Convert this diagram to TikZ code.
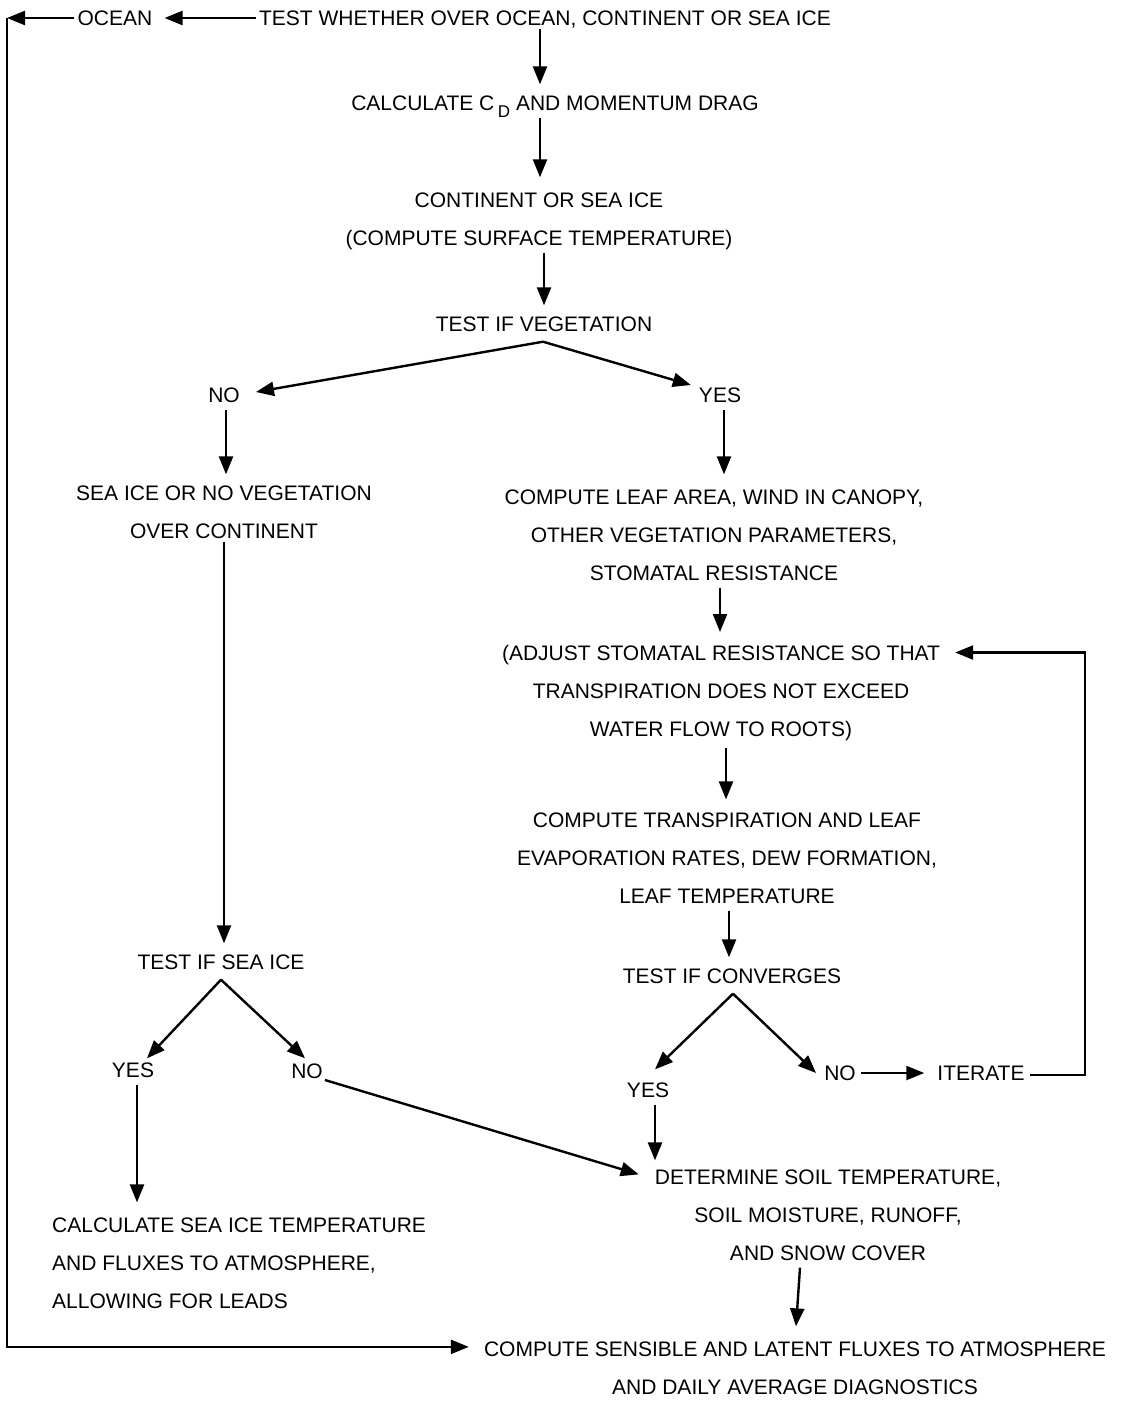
\documentclass[tikz,border=0pt]{standalone}
\usepackage{fontspec}
\setmainfont{Liberation Sans}
\usetikzlibrary{arrows.meta,calc}
\begin{document}
\begin{tikzpicture}[x=1pt,y=-1pt,
  lbl/.style={inner sep=3pt,font=\fontsize{21}{38}\selectfont,text height=15pt,text depth=0pt},
  blk/.style={inner sep=3pt,font=\fontsize{21}{38}\selectfont,align=center},
  arr/.style={line width=2.4pt,-{Triangle[length=18pt,width=14pt]}},
  ln/.style={line width=2.4pt}]
\useasboundingbox (0,0) rectangle (1121,1401);
% nodes
\node[lbl] (ocean) at (115,18) {OCEAN};
\node[lbl] (test) at (545,18) {TEST WHETHER OVER OCEAN, CONTINENT OR SEA ICE};
\node[lbl] (calc) at (555,103) {CALCULATE C\,\raisebox{-7pt}{\fontsize{17}{17}\selectfont D} AND MOMENTUM DRAG};
\node[blk] (cont) at (539,221) {CONTINENT OR SEA ICE\\(COMPUTE SURFACE TEMPERATURE)};
\node[lbl] (veg) at (544,324) {TEST IF VEGETATION};
\node[lbl] (no1) at (224,395) {NO};
\node[lbl] (yes1) at (720,395) {YES};
\node[blk] (seaveg) at (224,512) {SEA ICE OR NO VEGETATION\\OVER CONTINENT};
\node[lbl] (testice) at (221,962) {TEST IF SEA ICE};
\node[lbl] (yes2) at (133,1070) {YES};
\node[lbl] (no2) at (307,1071) {NO};
\node[blk,align=left,anchor=west] (calcice) at (49,1263) {CALCULATE SEA ICE TEMPERATURE\\AND FLUXES TO ATMOSPHERE,\\ALLOWING FOR LEADS};
\node[blk] (leaf) at (714,535) {COMPUTE LEAF AREA, WIND IN CANOPY,\\OTHER VEGETATION PARAMETERS,\\STOMATAL RESISTANCE};
\node[blk] (adjust) at (721,693) {(ADJUST STOMATAL RESISTANCE SO THAT\\TRANSPIRATION DOES NOT EXCEED\\WATER FLOW TO ROOTS)};
\node[blk] (transp) at (727,858) {COMPUTE TRANSPIRATION AND LEAF\\EVAPORATION RATES, DEW FORMATION,\\LEAF TEMPERATURE};
\node[lbl] (conv) at (732,976) {TEST IF CONVERGES};
\node[lbl] (yes3) at (648,1090) {YES};
\node[lbl] (no3) at (840,1073) {NO};
\node[lbl] (iter) at (981,1073) {ITERATE};
\node[blk] (det) at (828,1215) {DETERMINE SOIL TEMPERATURE,\\SOIL MOISTURE, RUNOFF,\\AND SNOW COVER};
\node[blk] (final) at (795,1368) {COMPUTE SENSIBLE AND LATENT FLUXES TO ATMOSPHERE\\AND DAILY AVERAGE DIAGNOSTICS};
\coordinate (oceanend) at (7,18);
% connectors
\draw[arr,shorten >=9pt] (test.west) -- (ocean.east);
\draw[arr] (ocean.west) -- (oceanend);
\draw[arr] ([xshift=-5pt]test.south) -- ([xshift=-15pt,yshift=8pt]calc.north);
\draw[arr] ([xshift=-15pt,yshift=-4pt]calc.south) -- ([xshift=1pt,yshift=12pt]cont.north);
\draw[arr] ([xshift=5pt]cont.south) -- ([yshift=8pt]veg.south |- veg.north);
\coordinate (vegapex) at ([xshift=-1pt,yshift=-7pt]veg.south);
\draw[arr] (vegapex) -- ([xshift=13pt,yshift=3pt]no1.east);
\draw[arr] (vegapex) -- ([xshift=-5pt,yshift=10pt]yes1.west);
\draw[arr] ([xshift=2pt,yshift=-4pt]no1.south) -- ([xshift=2pt,yshift=8pt]seaveg.north);
\draw[arr] (seaveg.south) -- ([xshift=3pt,yshift=8pt]testice.north);
\coordinate (iceapex) at ([yshift=-7pt]testice.south);
\draw[arr] (iceapex) -- ([xshift=14pt,yshift=1pt]yes2.north);
\draw[arr] (iceapex) -- ([xshift=-2pt,yshift=2pt]no2.north);
\draw[arr] ([xshift=4pt,yshift=-4pt]yes2.south) -- ($(calcice.north -| yes2.south)+(4,-12)$);
\draw[arr] ([xshift=-1pt,yshift=-9pt]no2.east) -- ([xshift=-13pt,yshift=-8pt]det.north west);
\draw[arr] ([xshift=4pt,yshift=-4pt]yes1.south) -- ([xshift=10pt,yshift=12pt]leaf.north);
\draw[arr] ([xshift=6pt,yshift=-4pt]leaf.south) -- ([xshift=-1pt,yshift=10pt]adjust.north);
\draw[arr] ([xshift=5pt,yshift=-4pt]adjust.south) -- ([xshift=-1pt,yshift=10pt]transp.north);
\draw[arr] ([xshift=2pt,yshift=-4pt]transp.south) -- ([xshift=-3pt,yshift=8pt]conv.north);
\coordinate (convapex) at ([xshift=1pt,yshift=-7pt]conv.south);
\draw[arr] (convapex) -- ([xshift=7pt,yshift=10pt]yes3.north);
\draw[arr] (convapex) -- ([xshift=-5pt]no3.west);
\draw[arr] ([xshift=2pt]no3.east) -- ([xshift=-10pt]iter.west);
\draw[arr] ([xshift=2pt,yshift=-2pt]iter.east) -- ++(55pt,0) |- ([xshift=12pt,yshift=-10.5pt]adjust.north east);
\draw[arr] ([xshift=7pt,yshift=-4pt]yes3.south) -- ([xshift=-173pt,yshift=6pt]det.north);
\draw[arr] ([xshift=-28pt,yshift=-4pt]det.south) -- ([xshift=1pt,yshift=12pt]final.north);
\draw[arr] (oceanend) |- ([xshift=-12pt,yshift=-8.5pt]final.north west);
\end{tikzpicture}
\end{document}
